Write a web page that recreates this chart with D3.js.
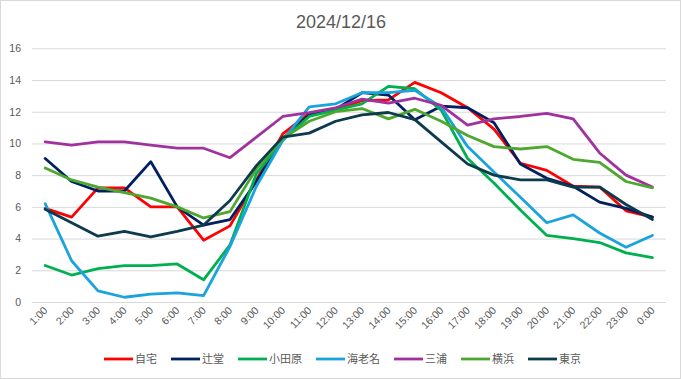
<!DOCTYPE html>
<html><head><meta charset="utf-8">
<script src="https://cdn.jsdelivr.net/npm/d3@7/dist/d3.min.js"></script>
<style>body{margin:0;background:#fff}svg{display:block}</style>
</head><body>
<svg id="chart" width="681" height="379"></svg>
<script>
const title = "2024/12/16";
const hours = ["1:00","2:00","3:00","4:00","5:00","6:00","7:00","8:00","9:00","10:00","11:00","12:00","13:00","14:00","15:00","16:00","17:00","18:00","19:00","20:00","21:00","22:00","23:00","0:00"];
const yTicks = [0,2,4,6,8,10,12,14,16];
const seriesNames = ["自宅","辻堂","小田原","海老名","三浦","横浜","東京"];
const seriesColors = ["#FF0000","#002060","#00B050","#1AA3DC","#A0329F","#4EA72E","#0E3A4E"];
const jitaku   = [5.9,5.35,7.2,7.2,6.0,6.0,3.9,4.8,7.7,10.6,11.9,12.15,12.7,12.75,13.85,13.2,12.25,10.9,8.75,8.3,7.3,7.25,5.75,5.35];
const tsujido  = [9.05,7.6,7.0,7.0,8.85,6.0,4.85,5.2,7.6,10.3,11.8,12.15,13.2,13.05,11.5,12.35,12.25,11.3,8.7,7.8,7.3,6.3,5.9,5.35];
const odawara  = [2.3,1.7,2.1,2.3,2.3,2.4,1.4,3.6,8.1,10.2,11.7,12.1,12.5,13.6,13.45,12.1,9.05,7.5,5.8,4.2,4.0,3.75,3.1,2.8];
const ebina    = [6.2,2.6,0.7,0.3,0.5,0.57,0.4,3.5,7.3,10.2,12.3,12.5,13.2,13.2,13.35,12.3,9.8,8.2,6.6,5.0,5.5,4.35,3.45,4.2];
const miura    = [10.1,9.9,10.1,10.1,9.9,9.7,9.7,9.1,10.4,11.7,11.95,12.25,12.8,12.55,12.85,12.4,11.15,11.55,11.7,11.9,11.55,9.4,8.0,7.25];
const yokohama = [8.45,7.7,7.25,6.9,6.55,6.0,5.3,5.7,8.4,10.3,11.4,12.0,12.2,11.55,12.15,11.4,10.5,9.8,9.65,9.8,9.0,8.8,7.6,7.2];
const tokyo    = [5.85,5.0,4.15,4.45,4.1,4.45,4.85,6.4,8.6,10.4,10.65,11.4,11.8,11.95,11.5,10.1,8.7,8.0,7.7,7.7,7.25,7.25,6.15,5.2];
const seriesValues = [jitaku,tsujido,odawara,ebina,miura,yokohama,tokyo];

const svg = d3.select("#chart");
const W = 681, H = 379;
const pL = 32, pR = 665.6, pT = 48.3, pB = 302;

svg.append("rect").attr("x",0.5).attr("y",0.5).attr("width",W-1).attr("height",H-1)
  .attr("fill","#fff").attr("stroke","#d9d9d9");

svg.append("text").attr("x",341).attr("y",28).attr("text-anchor","middle")
  .attr("font-family","Liberation Sans, Arial, sans-serif").attr("font-size",18)
  .attr("fill","#595959").text(title);

const x = d3.scaleBand().domain(hours).range([pL,pR]).padding(0);
const y = d3.scaleLinear().domain([0,16]).range([pB,pT]);

const yAxis = d3.axisLeft(y).tickValues(yTicks).tickSize(-(pR-pL)).tickPadding(11).tickFormat(d3.format("d"));
const gy = svg.append("g").attr("transform",`translate(${pL},0)`).call(yAxis);
gy.select(".domain").remove();
gy.selectAll(".tick line").attr("stroke","#d9d9d9").attr("stroke-width",1);
gy.selectAll(".tick text").attr("fill","#595959").attr("font-size",10.5)
  .attr("font-family","Liberation Sans, Arial, sans-serif");

const xAxis = d3.axisBottom(x).tickSize(0).tickPadding(0);
const gx = svg.append("g").attr("transform",`translate(0,${pB})`).call(xAxis);
gx.select(".domain").remove();
gx.selectAll(".tick text")
  .attr("fill","#595959").attr("font-size",10.5)
  .attr("font-family","Liberation Sans, Arial, sans-serif")
  .attr("text-anchor","end").attr("dy",0).attr("y",0)
  .attr("transform","translate(3,9) rotate(-45)");

const line = d3.line().x((d,i)=>x(hours[i])+x.bandwidth()/2).y(d=>y(d));
seriesValues.forEach((vals,k)=>{
  svg.append("path").datum(vals).attr("d",line)
    .attr("fill","none").attr("stroke",seriesColors[k]).attr("stroke-width",2.8)
    .attr("stroke-linejoin","round").attr("stroke-linecap","round");
});

const legend = svg.append("g");
let lx = 104;
const ly = 359;
seriesNames.forEach((n,k)=>{
  legend.append("line").attr("x1",lx).attr("x2",lx+29).attr("y1",ly).attr("y2",ly)
    .attr("stroke",seriesColors[k]).attr("stroke-width",2.8);
  legend.append("text").attr("x",lx+31).attr("y",ly+4)
    .attr("font-family","Noto Sans CJK JP, sans-serif").attr("font-size",11)
    .attr("fill","#595959").text(n);
  lx += 31 + n.length*11 + 14;
});
</script>
</body></html>
